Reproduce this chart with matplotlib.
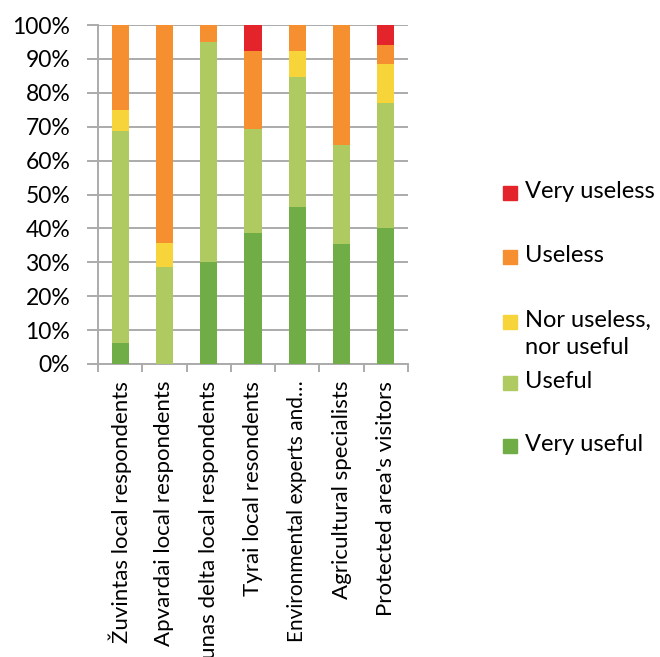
import matplotlib
matplotlib.use("Agg")
import matplotlib.pyplot as plt
from matplotlib.patches import Rectangle
import numpy as np

plt.rcParams['font.family'] = ['Lato', 'DejaVu Sans']

categories = [
    "Žuvintas local respondents",
    "Apvardai local respondents",
    "Nemunas delta local respondents",
    "Tyrai local resondents",
    "Environmental experts and…",
    "Agricultural specialists",
    "Protected area's visitors",
]

very_useful = [6.25, 0.0, 30.0, 38.5, 46.2, 35.3, 40.0]
useful = [62.5, 28.6, 65.0, 30.8, 38.5, 29.4, 37.1]
neutral = [6.25, 7.1, 0.0, 0.0, 7.7, 0.0, 11.4]
useless = [25.0, 64.3, 5.0, 23.1, 7.7, 35.3, 5.7]
very_useless = [0.0, 0.0, 0.0, 7.7, 0.0, 0.0, 5.7]

series = [
    ("Very useful", very_useful, "#70AD47"),
    ("Useful", useful, "#B0CA62"),
    ("Nor useless,\nnor useful", neutral, "#F6D43A"),
    ("Useless", useless, "#F58F2F"),
    ("Very useless", very_useless, "#E3242B"),
]

W, H = 660, 657
fig = plt.figure(figsize=(W / 100, H / 100), dpi=100)
ax = fig.add_axes([98 / W, 1 - 364 / H, 310 / W, 339 / H])

x = np.arange(len(categories))
bottom = np.zeros(len(categories))
for name, vals, color in series:
    vals = np.array(vals)
    ax.bar(x, vals, width=0.39, bottom=bottom, color=color, edgecolor="none", zorder=3)
    bottom += vals

grid_c = "#ABABAB"
ax.set_xlim(-0.5, len(categories) - 0.5)
ax.set_ylim(0, 100)
ax.set_yticks(np.arange(0, 101, 10))
ax.set_yticklabels([f"{v}%" for v in range(0, 101, 10)], fontsize=16.5)
ax.yaxis.grid(True, color=grid_c, linewidth=1.4, zorder=0)
ax.set_xticks(x)
xlabels = ax.set_xticklabels(categories, rotation=90, fontsize=16, va="top", ha="center")
xlabels[4].set_fontsize(15)
ax.set_xticks(np.arange(-0.5, len(categories)), minor=True)
ax.tick_params(axis="x", which="major", length=0, pad=12)
ax.tick_params(axis="x", which="minor", length=6, color=grid_c, width=1.4)
ax.tick_params(axis="y", length=8, color=grid_c, width=1.4, pad=12)
for s in ("top", "right"):
    ax.spines[s].set_visible(False)
for s in ("left", "bottom"):
    ax.spines[s].set_color(grid_c)
    ax.spines[s].set_linewidth(1.4)

# Legend, listed top-down from "Very useless" to "Very useful"
legend_rows = [
    (series[4], 193),
    (series[3], 257),
    (series[2], 322),
    (series[1], 383),
    (series[0], 446),
]
for (name, _, color), y in legend_rows:
    fig.add_artist(Rectangle((503 / W, 1 - (y + 7) / H), 14 / W, 14 / H,
                             transform=fig.transFigure, color=color))
    fig.text(525 / W, 1 - (y - 12) / H, name, fontsize=17, va="top", ha="left",
             linespacing=1.35)

fig.savefig("out.png", dpi=100)
